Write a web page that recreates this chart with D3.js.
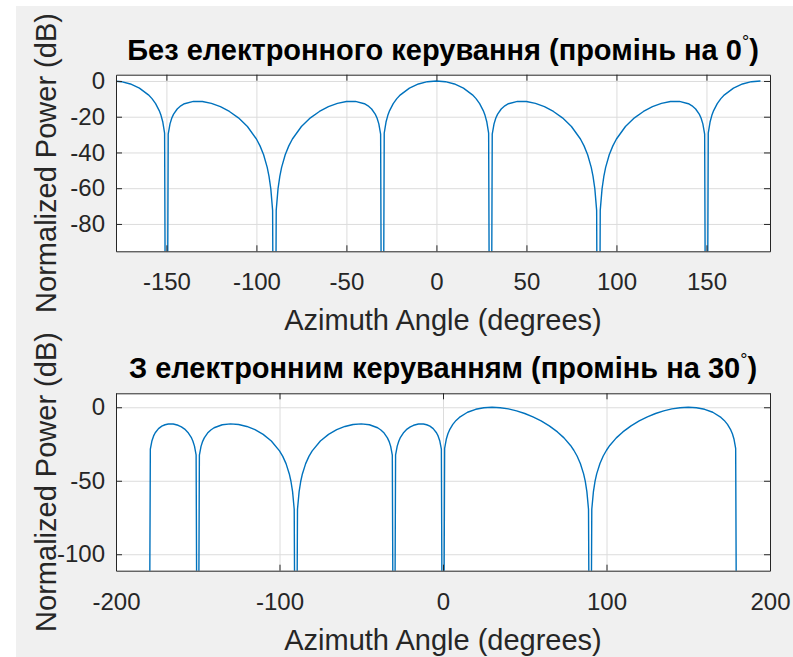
<!DOCTYPE html>
<html lang="uk">
<head>
<meta charset="UTF-8">
<title>Array pattern</title>
<script src="https://cdn.jsdelivr.net/npm/d3@7"></script>
<style>
  body { margin: 0; background: #fff; }
  svg { display: block; font-family: "Liberation Sans", Arial, sans-serif; }
</style>
</head>
<body>
<svg id="chart" width="793" height="657"></svg>
<script>
// --- top panel: no steering (beam at 0 deg) ---
const topAngles = [
  -180, -175, -170, -165, -160, -158, -156, -154, -153, -152,
  -151, -150, -149, -148, -147, -146, -144, -142, -140, -135,
  -130, -125, -120, -115, -110, -105, -100, -98, -96, -94,
  -93, -92, -91, -90, -89, -88, -87, -86, -84, -82,
  -80, -75, -70, -65, -60, -55, -50, -45, -40, -38,
  -36, -34, -33, -32, -31, -30, -29, -28, -27, -26,
  -24, -22, -20, -15, -10, -5, 0, 5, 10, 15,
  20, 22, 24, 26, 27, 28, 29, 30, 31, 32,
  33, 34, 36, 38, 40, 45, 50, 55, 60, 65,
  70, 75, 80, 82, 84, 86, 87, 88, 89, 90,
  91, 92, 93, 94, 96, 98, 100, 105, 110, 115,
  120, 125, 130, 135, 140, 142, 144, 146, 147, 148,
  149, 150, 151, 152, 153, 154, 156, 158, 160, 165,
  170, 175, 180
];
const topPower = [
  0, -0.41, -1.69, -4.00, -7.76, -9.89, -12.70, -16.56, -19.25, -22.99,
  -29.24, -300, -29.74, -23.99, -20.75, -18.56, -15.70, -13.90, -12.74, -11.41,
  -11.49, -12.53, -14.39, -17.06, -20.64, -25.49, -32.46, -36.32, -41.30, -48.34,
  -53.34, -60.38, -72.42, -300, -72.42, -60.38, -53.34, -48.34, -41.30, -36.32,
  -32.46, -25.49, -20.64, -17.06, -14.39, -12.53, -11.49, -11.41, -12.74, -13.90,
  -15.70, -18.56, -20.75, -23.99, -29.74, -300, -29.24, -22.99, -19.25, -16.56,
  -12.70, -9.89, -7.76, -4.00, -1.69, -0.41, 0, -0.41, -1.69, -4.00,
  -7.76, -9.89, -12.70, -16.56, -19.25, -22.99, -29.24, -300, -29.74, -23.99,
  -20.75, -18.56, -15.70, -13.90, -12.74, -11.41, -11.49, -12.53, -14.39, -17.06,
  -20.64, -25.49, -32.46, -36.32, -41.30, -48.34, -53.34, -60.38, -72.42, -300,
  -72.42, -60.38, -53.34, -48.34, -41.30, -36.32, -32.46, -25.49, -20.64, -17.06,
  -14.39, -12.53, -11.49, -11.41, -12.74, -13.90, -15.70, -18.56, -20.75, -23.99,
  -29.74, -300, -29.24, -22.99, -19.25, -16.56, -12.70, -9.89, -7.76, -4.00,
  -1.69, -0.41, 0
];
const topXTicks = [-150, -100, -50, 0, 50, 100, 150];
const topYTicks = [-80, -60, -40, -20, 0];

// --- bottom panel: steered beam at 30 deg ---
const botAngles = [
  -180, -179, -178, -177, -176, -174, -172, -170, -168, -165,
  -162, -160, -158, -156, -154, -153, -152, -151, -150, -149,
  -148, -147, -146, -144, -142, -140, -135, -130, -125, -120,
  -115, -110, -105, -100, -98, -96, -94, -93, -92, -91,
  -90, -89, -88, -87, -86, -84, -82, -80, -75, -70,
  -65, -60, -55, -50, -45, -40, -38, -36, -34, -33,
  -32, -31, -30, -29, -28, -27, -26, -24, -22, -20,
  -18, -15, -12, -10, -8, -6, -4, -3, -2, -1,
  0, 1, 2, 3, 4, 6, 8, 10, 15, 20,
  25, 30, 35, 40, 45, 50, 55, 60, 65, 70,
  74, 78, 80, 82, 84, 86, 87, 88, 89, 90,
  91, 92, 93, 94, 96, 98, 100, 102, 106, 110,
  115, 120, 125, 130, 135, 140, 145, 150, 155, 160,
  165, 170, 172, 174, 176, 177, 178, 179, 180
];
const botPower = [
  -300, -28.48, -22.73, -19.51, -17.33, -14.53, -12.87, -11.89, -11.40, -11.42,
  -12.25, -13.31, -14.86, -17.09, -20.46, -22.92, -26.43, -32.46, -300, -32.55,
  -26.60, -23.18, -20.80, -17.57, -15.45, -13.96, -11.89, -11.30, -11.75, -13.07,
  -15.25, -18.42, -22.92, -29.65, -33.44, -38.37, -45.37, -50.35, -57.38, -69.41,
  -300, -69.41, -57.38, -50.35, -45.37, -38.37, -33.44, -29.65, -22.92, -18.42,
  -15.25, -13.07, -11.75, -11.30, -11.89, -13.96, -15.45, -17.57, -20.80, -23.18,
  -26.60, -32.55, -300, -32.46, -26.43, -22.92, -20.46, -17.09, -14.86, -13.31,
  -12.25, -11.42, -11.40, -11.89, -12.87, -14.53, -17.33, -19.51, -22.73, -28.48,
  -300, -28.01, -21.78, -18.07, -15.41, -11.63, -8.94, -6.90, -3.41, -1.39,
  -0.32, 0, -0.29, -1.13, -2.45, -4.25, -6.52, -9.30, -12.65, -16.76,
  -20.83, -26.00, -29.24, -33.17, -38.22, -45.30, -50.31, -57.37, -69.41, -300,
  -69.41, -57.37, -50.31, -45.30, -38.22, -33.17, -29.24, -26.00, -20.83, -16.76,
  -12.65, -9.30, -6.52, -4.25, -2.45, -1.13, -0.29, 0, -0.32, -1.39,
  -3.41, -6.90, -8.94, -11.63, -15.41, -18.07, -21.78, -28.01, -300
];
const botXTicks = [-200, -100, 0, 100, 200];
const botYTicks = [-100, -50, 0];

const xLabel = 'Azimuth Angle (degrees)';
const yLabel = 'Normalized Power (dB)';

const svg = d3.select('#chart');
const ink = '#262626';
const gridColor = '#dcdcdc';

// figure background (light gray, thin white strip top/left)
svg.append('rect').attr('x', 16).attr('y', 6).attr('width', 777).attr('height', 651).attr('fill', '#f0f0f0');

function drawPanel(p) {
  const w = p.right - p.left, h = p.bottom - p.top;
  const x = d3.scaleLinear().domain(p.xDomain).range([p.left, p.right]);
  const y = d3.scaleLinear().domain(p.yDomain).range([p.bottom, p.top]);
  const g = svg.append('g');
  const fmt = d => String(d); // plain hyphen like MATLAB

  g.append('rect').attr('x', p.left).attr('y', p.top).attr('width', w).attr('height', h).attr('fill', '#fff');

  // grid
  g.append('g').attr('transform', `translate(0,${p.bottom})`)
    .call(d3.axisBottom(x).tickValues(p.xTicks).tickSize(-h).tickFormat(''))
    .call(s => { s.select('.domain').remove(); s.selectAll('line').attr('stroke', gridColor); });
  g.append('g').attr('transform', `translate(${p.left},0)`)
    .call(d3.axisLeft(y).tickValues(p.yTicks).tickSize(-w).tickFormat(''))
    .call(s => { s.select('.domain').remove(); s.selectAll('line').attr('stroke', gridColor); });

  // curve
  const clipId = 'clip' + p.id;
  svg.append('clipPath').attr('id', clipId).append('rect')
    .attr('x', p.left).attr('y', p.top).attr('width', w).attr('height', h);
  const line = d3.line().x(d => x(d[0])).y(d => y(d[1]));
  g.append('path')
    .datum(d3.zip(p.angles, p.power))
    .attr('clip-path', `url(#${clipId})`)
    .attr('fill', 'none')
    .attr('stroke', '#0072bd')
    .attr('stroke-width', 1.4)
    .attr('stroke-linejoin', 'round')
    .attr('d', line);

  // axes with inward ticks on all four sides
  const tk = 6;
  const styleAxis = s => {
    s.attr('font-family', null).attr('font-size', null);
    s.select('.domain').attr('stroke', ink);
    s.selectAll('.tick line').attr('stroke', ink);
    s.selectAll('.tick text').attr('fill', ink).style('font-size', '24px');
  };
  g.append('g').attr('transform', `translate(0,${p.bottom})`)
    .call(d3.axisBottom(x).tickValues(p.xTicks).tickSize(-tk).tickSizeOuter(0).tickPadding(22).tickFormat(fmt))
    .call(styleAxis);
  g.append('g').attr('transform', `translate(0,${p.top})`)
    .call(d3.axisTop(x).tickValues(p.xTicks).tickSize(-tk).tickSizeOuter(0).tickFormat(''))
    .call(styleAxis);
  g.append('g').attr('transform', `translate(${p.left},0)`)
    .call(d3.axisLeft(y).tickValues(p.yTicks).tickSize(-tk).tickSizeOuter(0).tickPadding(11).tickFormat(fmt))
    .call(styleAxis);
  g.append('g').attr('transform', `translate(${p.right},0)`)
    .call(d3.axisRight(y).tickValues(p.yTicks).tickSize(-tk).tickSizeOuter(0).tickFormat(''))
    .call(styleAxis);

  // title with superscript degree
  const t = g.append('text')
    .attr('x', (p.left + p.right) / 2).attr('y', p.top - 15)
    .attr('text-anchor', 'middle')
    .attr('font-weight', 'bold').attr('font-size', 29).attr('fill', '#000');
  t.append('tspan').text(p.title);
  t.append('tspan').attr('font-size', 18).attr('dy', -12).attr('font-weight', 'normal').text('\u00B0');
  t.append('tspan').attr('dy', 12).text(')');

  // axis labels
  g.append('text')
    .attr('x', (p.left + p.right) / 2).attr('y', p.bottom + 79)
    .attr('text-anchor', 'middle').attr('font-size', 29).attr('fill', ink)
    .text(xLabel);
  g.append('text')
    .attr('transform', `translate(56,${(p.top + p.bottom) / 2}) rotate(-90)`)
    .attr('text-anchor', 'middle').attr('font-size', 29).attr('fill', ink)
    .text(yLabel);
}

drawPanel({
  id: 'top', left: 116, right: 770, top: 74.7, bottom: 251.3,
  xDomain: [-178, 185.3], yDomain: [-95.3, 3.5],
  xTicks: topXTicks, yTicks: topYTicks,
  angles: topAngles, power: topPower,
  title: 'Без електронного керування (промінь на 0'
});
drawPanel({
  id: 'bot', left: 116, right: 770, top: 393.3, bottom: 570.7,
  xDomain: [-200, 200], yDomain: [-111.2, 9.5],
  xTicks: botXTicks, yTicks: botYTicks,
  angles: botAngles, power: botPower,
  title: 'З електронним керуванням (промінь на 30'
});
</script>
</body>
</html>
